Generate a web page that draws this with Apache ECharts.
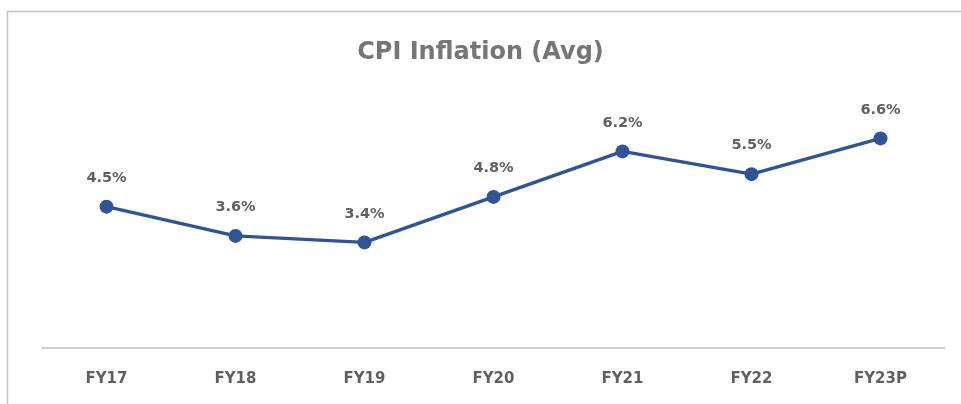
<!DOCTYPE html>
<html><head><meta charset="utf-8">
<script src="https://cdn.jsdelivr.net/npm/echarts@6/dist/echarts.min.js"></script>
<style>html,body{margin:0;padding:0;background:#fff}#c{width:961px;height:404px}</style>
</head><body><div id="c"></div>
<script>
const categories = ['FY17','FY18','FY19','FY20','FY21','FY22','FY23P'];
const cpiValues = [4.5, 3.6, 3.4, 4.8, 6.2, 5.5, 6.6];
const chart = echarts.init(document.getElementById('c'), null, {renderer:'canvas'});
chart.setOption({
  backgroundColor:'#fff',
  animation:false,
  graphic:[{type:'rect',shape:{x:7.5,y:11.5,width:1000,height:500},style:{fill:'none',stroke:'#c4c4c4',lineWidth:1.5},silent:true,z:-1}],
  title:{text:'CPI Inflation (Avg)',left:'center',top:36,textStyle:{fontFamily:'DejaVu Sans',fontSize:24,fontWeight:'bold',color:'#767676'}},
  grid:{left:42,right:16,top:88,bottom:56},
  xAxis:{type:'category',data:categories,boundaryGap:true,
    axisLine:{lineStyle:{color:'#bfbfbf',width:1.5}},axisTick:{show:false},
    axisLabel:{margin:24,fontFamily:'DejaVu Sans',fontSize:15,fontWeight:'bold',color:'#606060'}},
  yAxis:{type:'value',min:0.15,max:8.15,show:false,splitLine:{show:false}},
  series:[{type:'line',data:cpiValues,symbol:'circle',symbolSize:14,
    lineStyle:{color:'#2F5597',width:3.5},itemStyle:{color:'#2F5597'},
    label:{show:true,position:'top',distance:14,formatter:p=>p.value.toFixed(1)+'%',
      fontFamily:'DejaVu Sans',fontSize:14.5,fontWeight:'bold',color:'#606060'}}]
});
</script></body></html>
